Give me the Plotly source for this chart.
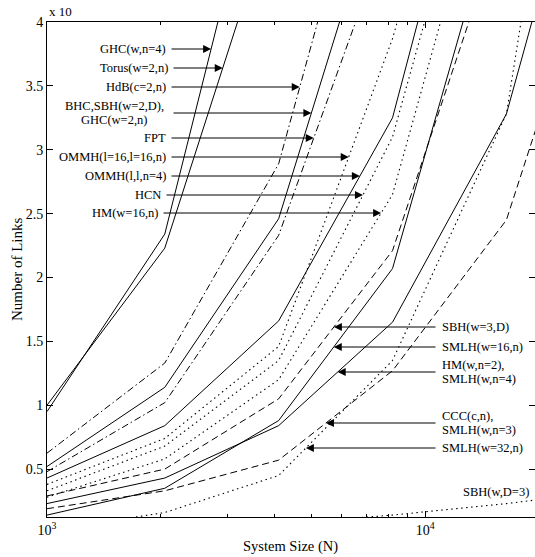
import math
import plotly.graph_objects as go

# ---------------- data ----------------
system_size = [1000, 2048, 4096, 8192, 16384, 32768]

ghc_w_n4 = [0.95, 2.34, 5.9]
torus_w2 = [1.0, 2.23, 5.0]
hdb_c2 = [0.625, 1.33, 2.89, 6.13]
bhc_sbh_ghc = [0.52, 1.14, 2.46, 5.34]
fpt = [0.48, 1.02, 2.33, 4.8]
ommh_16_16 = [0.38, 0.74, 1.46, 3.87, 7.0]
ommh_l_l_n4 = [0.43, 0.84, 1.66, 3.25, 6.63]
hcn = [0.33, 0.68, 1.35, 3.1, 6.3]
hm_w16 = [0.28, 0.58, 1.2, 2.65, 5.85]
sbh_w3 = [0.29, 0.5, 1.05, 2.21, 4.88]
smlh_w16 = [0.14, 0.35, 0.88, 2.07, 5.19]
hm_n2_smlh_n4 = [0.23, 0.43, 0.84, 1.65, 3.28, 6.5]
ccc_smlh_n3 = [0.19, 0.33, 0.57, 1.27, 2.45, 5.2]
smlh_w32 = [0.02, 0.16, 0.45, 1.35, 3.28, 8.9]
sbh_d3 = [0.01, 0.03, 0.07, 0.14, 0.23, 0.34]

y_ticks = [0.5, 1, 1.5, 2, 2.5, 3, 3.5, 4]
y_tick_labels = ["0.5", "1", "1.5", "2", "2.5", "3", "3.5", "4"]
x_ticks = [1000, 10000]
x_tick_labels = ["10<sup>3</sup>", "10<sup>4</sup>"]

SOLID, DOT, DASH, DASHDOT = "solid", "1.5px,3.5px", "7px,4px", "7px,3px,1.5px,3px"
series = [
    ("GHC(w,n=4)", ghc_w_n4, SOLID),
    ("Torus(w=2,n)", torus_w2, SOLID),
    ("HdB(c=2,n)", hdb_c2, DASHDOT),
    ("BHC,SBH(w=2,D),GHC(w=2,n)", bhc_sbh_ghc, SOLID),
    ("FPT", fpt, DASHDOT),
    ("OMMH(l=16,l=16,n)", ommh_16_16, DOT),
    ("OMMH(l,l,n=4)", ommh_l_l_n4, SOLID),
    ("HCN", hcn, DOT),
    ("HM(w=16,n)", hm_w16, DOT),
    ("SBH(w=3,D)", sbh_w3, DASH),
    ("SMLH(w=16,n)", smlh_w16, SOLID),
    ("HM(w,n=2),SMLH(w,n=4)", hm_n2_smlh_n4, SOLID),
    ("CCC(c,n),SMLH(w,n=3)", ccc_smlh_n3, DASH),
    ("SMLH(w=32,n)", smlh_w32, DOT),
    ("SBH(w,D=3)", sbh_d3, DOT),
]

# ---------------- layout geometry ----------------
W, H = 535, 557
ML, MR, MT, MB = 47, 0, 22, 40
PW, PH = W - ML - MR, H - MT - MB
XR = [3.0, math.log10(19500)]
YR = [0.125, 4.0]
FONT = "Liberation Serif, Times New Roman, serif"
LFS = 12.5


def px_to_x(px):
    return XR[0] + (px - ML) / PW * (XR[1] - XR[0])


def py_to_y(py):
    return YR[1] - (py - MT) / PH * (YR[1] - YR[0])


def px_to_paper(px):
    return (px - ML) / PW


def py_to_paper(py):
    return (H - MB - py) / PH


def x_at_value(vals, v):
    """log10 of N where the series reaches value v (piecewise linear in log N)."""
    xs = [math.log10(n) for n in system_size[:len(vals)]]
    for i in range(len(vals) - 1):
        a, b = vals[i], vals[i + 1]
        if (a - v) * (b - v) <= 0 and a != b:
            t = (v - a) / (b - a)
            return xs[i] + t * (xs[i + 1] - xs[i])
    return xs[-1]


fig = go.Figure()
for name, vals, dash in series:
    fig.add_trace(go.Scatter(
        x=system_size[:len(vals)], y=vals, mode="lines", name=name,
        line=dict(color="black", width=1.1 if dash == DOT else 1, dash=dash),
        showlegend=False, hoverinfo="skip"))

# labels: (text lines, series values, arrow y px, text px, text y px list)
left_labels = [
    (["GHC(w,n=4)"], ghc_w_n4, 49, 168, [49]),
    (["Torus(w=2,n)"], torus_w2, 68, 170, [68]),
    (["HdB(c=2,n)"], hdb_c2, 87, 168, [87]),
    (["BHC,SBH(w=2,D),", "GHC(w=2,n)"], bhc_sbh_ghc, 113, 170, [106, 120]),
    (["FPT"], fpt, 138, 168, [138]),
    (["OMMH(l=16,l=16,n)"], ommh_16_16, 157, 168, [157]),
    (["OMMH(l,l,n=4)"], ommh_l_l_n4, 176, 168, [176]),
    (["HCN"], hcn, 195, 163, [195]),
    (["HM(w=16,n)"], hm_w16, 213, 160, [213]),
]
right_labels = [
    (["SBH(w=3,D)"], sbh_w3, 327, 440, [327]),
    (["SMLH(w=16,n)"], smlh_w16, 347, 440, [347]),
    (["HM(w,n=2),", "SMLH(w,n=4)"], hm_n2_smlh_n4, 372, 440, [365, 379]),
    (["CCC(c,n),", "SMLH(w,n=3)"], ccc_smlh_n3, 423, 440, [416, 430]),
    (["SMLH(w=32,n)"], smlh_w32, 448, 440, [448]),
]

annotations = []
for lines, vals, ay_px, tx_px, ty_list in left_labels:
    if len(lines) == 2:
        for ln, ty in zip(lines, ty_list):
            annotations.append(dict(
                x=px_to_x(tx_px - 56), y=py_to_y(ty), xref="x", yref="y",
                text=ln, showarrow=False, xanchor="center", yanchor="middle",
                font=dict(family=FONT, size=LFS, color="black")))
    else:
        annotations.append(dict(
            x=px_to_x(tx_px), y=py_to_y(ty_list[0]), xref="x", yref="y",
            text=lines[0], showarrow=False, xanchor="right", yanchor="middle",
            font=dict(family=FONT, size=LFS, color="black")))
    v = py_to_y(ay_px)
    annotations.append(dict(
        x=x_at_value(vals, v), y=v, xref="x", yref="y",
        ax=px_to_x(tx_px + 2), ay=v, axref="x", ayref="y",
        text="", showarrow=True, arrowhead=2, arrowsize=1.6, arrowwidth=1,
        arrowcolor="black", standoff=0, startstandoff=0))

for lines, vals, ay_px, tx_px, ty_list in right_labels:
    for ln, ty in zip(lines, ty_list):
        annotations.append(dict(
            x=px_to_x(tx_px), y=py_to_y(ty), xref="x", yref="y",
            text=ln, showarrow=False, xanchor="left", yanchor="middle",
            font=dict(family=FONT, size=LFS, color="black")))
    v = py_to_y(ay_px)
    annotations.append(dict(
        x=x_at_value(vals, v), y=v, xref="x", yref="y",
        ax=px_to_x(tx_px - 3), ay=v, axref="x", ayref="y",
        text="", showarrow=True, arrowhead=2, arrowsize=1.6, arrowwidth=1,
        arrowcolor="black", standoff=0, startstandoff=0))

annotations.append(dict(
    x=px_to_x(531), y=py_to_y(492), xref="x", yref="y", text="SBH(w,D=3)",
    showarrow=False, xanchor="right", yanchor="middle",
    font=dict(family=FONT, size=LFS, color="black")))

annotations.append(dict(
    x=px_to_paper(47), y=py_to_paper(11), xref="paper", yref="paper",
    text="x 10", showarrow=False, xanchor="left", yanchor="middle",
    font=dict(family=FONT, size=13, color="black")))

# axis titles as free text (fixed geometry)
annotations.append(dict(
    x=px_to_paper(290), y=py_to_paper(546), xref="paper", yref="paper",
    text="System Size (N)", showarrow=False, xanchor="center",
    yanchor="middle", font=dict(family=FONT, size=14.5, color="black")))
annotations.append(dict(
    x=px_to_paper(17), y=py_to_paper(270), xref="paper", yref="paper",
    text="Number of Links", showarrow=False, textangle=-90,
    xanchor="center", yanchor="middle",
    font=dict(family=FONT, size=15, color="black")))

fig.update_layout(
    width=W, height=H,
    margin=dict(l=ML, r=MR, t=MT, b=MB, pad=0, autoexpand=False),
    paper_bgcolor="white", plot_bgcolor="white",
    font=dict(family=FONT, size=13, color="black"),
    annotations=annotations,
    xaxis=dict(
        type="log", range=XR, tickvals=x_ticks, ticktext=x_tick_labels,
        ticks="inside", ticklen=6, tickcolor="black", showgrid=False,
        zeroline=False, showline=True, linecolor="black", linewidth=1,
        mirror="ticks", automargin=False,
        minor=dict(ticks="inside", ticklen=3, tickcolor="black", dtick="D1",
                   showgrid=False),
        tickfont=dict(family=FONT, size=14)),
    yaxis=dict(
        range=YR, tickvals=y_ticks, ticktext=y_tick_labels,
        ticks="inside", ticklen=6, tickcolor="black", showgrid=False,
        zeroline=False, showline=True, linecolor="black", linewidth=1,
        mirror="ticks", automargin=False,
        tickfont=dict(family=FONT, size=14)),
)

fig.write_html("out.html", config={"displayModeBar": False},
               post_script="document.body.style.margin='0px';")
